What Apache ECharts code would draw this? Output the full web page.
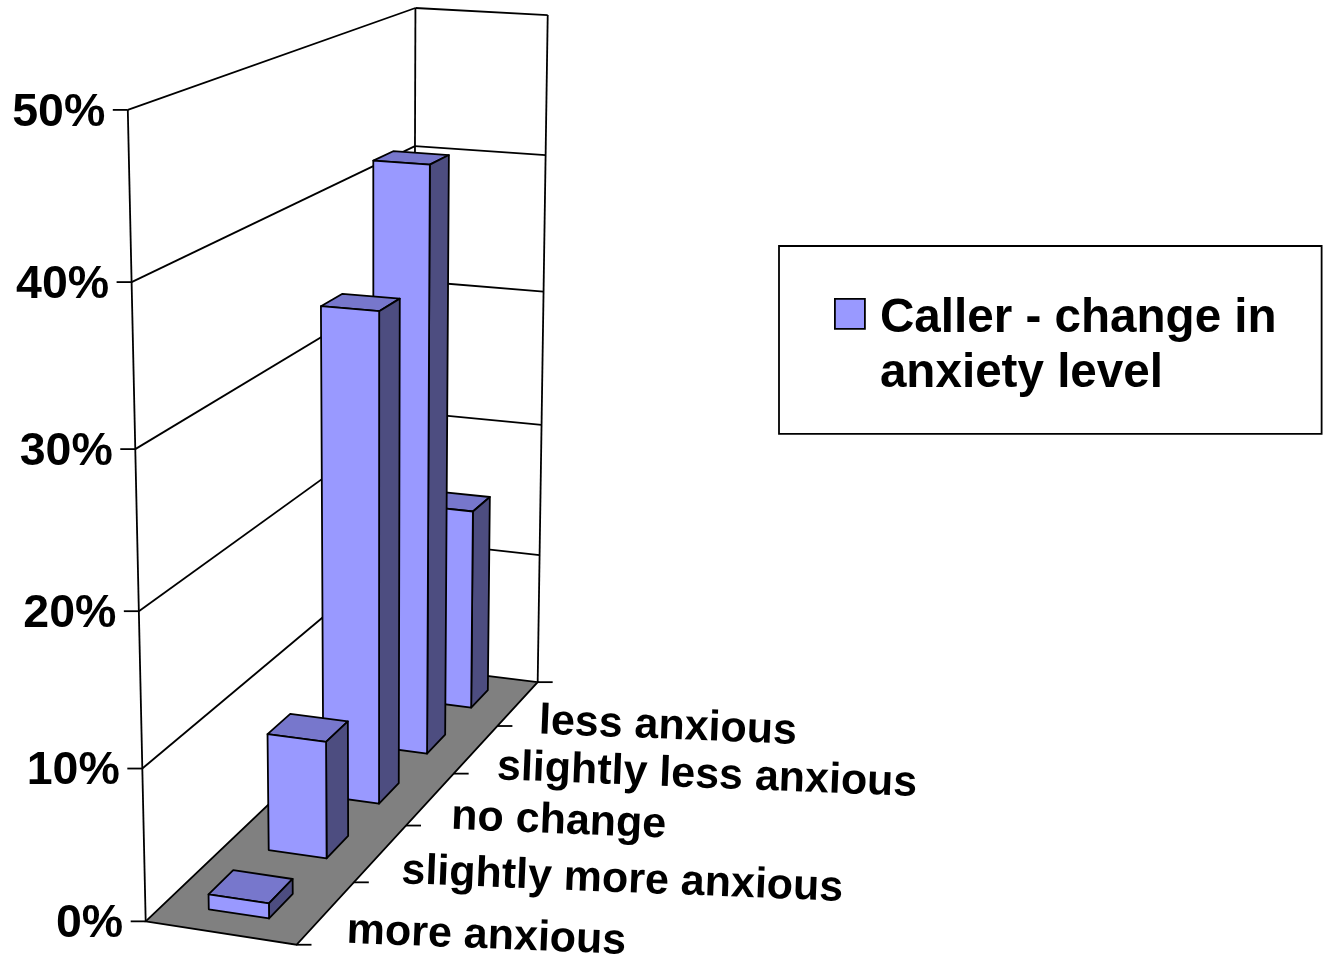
<!DOCTYPE html>
<html>
<head>
<meta charset="utf-8">
<title>Caller - change in anxiety level</title>
<style>
    html, body { margin: 0; padding: 0; background: #fff; }
    #main { width: 1325px; height: 955px; }
</style>
<script src="https://cdn.jsdelivr.net/npm/echarts@6/dist/echarts.min.js"></script>
</head>
<body>
<div id="main"></div>
<script>
// data
var categories = ['more anxious', 'slightly more anxious', 'no change', 'slightly less anxious', 'less anxious'];
var values = [1, 8, 34, 41.9, 15];
var tickValues = [0, 10, 20, 30, 40, 50];
var seriesName = 'Caller - change in\nanxiety level';

// where the corners of the unit box land on screen: [across, depth, height, x, y]
var camera = [
    [0, 0, 0, 145, 921],
    [1, 0, 0, 297, 945],
    [1, 1, 0, 537, 682],
    [0, 1, 0, 414, 667],
    [0, 0, 1, 128, 110],
    [0, 1, 1, 415, 8],
    [1, 1, 1, 548, 15]
];

var FONT = '"Liberation Sans", Arial, sans-serif';
var LINE = { stroke: '#000', lineWidth: 1.8 };
var BAR_LEFT = 0.295, BAR_RIGHT = 0.7, BAR_DEPTH = 0.4;

// least squares for x = (p0 + p1 u + p2 v + p3 h) / (1 + a u + b v + c h)
function solveCamera(points) {
    var n = 11, A = [], i, j, k;
    for (i = 0; i < n; i++) {
        A.push([]);
        for (j = 0; j <= n; j++) A[i].push(0);
    }
    function addRow(row, rhs) {
        for (var r = 0; r < n; r++) {
            for (var c = 0; c < n; c++) A[r][c] += row[r] * row[c];
            A[r][n] += row[r] * rhs;
        }
    }
    points.forEach(function (p) {
        var u = p[0], v = p[1], h = p[2], x = p[3], y = p[4];
        addRow([1, u, v, h, 0, 0, 0, 0, -x * u, -x * v, -x * h], x);
        addRow([0, 0, 0, 0, 1, u, v, h, -y * u, -y * v, -y * h], y);
    });
    for (i = 0; i < n; i++) {
        var best = i;
        for (j = i + 1; j < n; j++) if (Math.abs(A[j][i]) > Math.abs(A[best][i])) best = j;
        var tmp = A[i]; A[i] = A[best]; A[best] = tmp;
        for (j = 0; j < n; j++) {
            if (j === i) continue;
            var f = A[j][i] / A[i][i];
            for (k = i; k <= n; k++) A[j][k] -= f * A[i][k];
        }
    }
    return A.map(function (row, r) { return row[n] / row[r]; });
}

var m = solveCamera(camera);

function project(u, v, h) {
    var w = 1 + m[8] * u + m[9] * v + m[10] * h;
    return [
        (m[0] + m[1] * u + m[2] * v + m[3] * h) / w,
        (m[4] + m[5] * u + m[6] * v + m[7] * h) / w
    ];
}

// axis scales give the position inside the box
function depthOf(api, params, index) {
    return (api.coord([index, 0])[0] - params.coordSys.x) / params.coordSys.width;
}
function heightOf(api, params, value) {
    return 1 - (api.coord([0, value])[1] - params.coordSys.y) / params.coordSys.height;
}

function line(a, b, z) {
    return {
        type: 'line',
        z2: z || 1,
        shape: { x1: a[0], y1: a[1], x2: b[0], y2: b[1] },
        style: LINE
    };
}

function renderWalls(params, api) {
    var value = api.value(0);
    var h = heightOf(api, params, value);
    var left = project(0, 0, h), corner = project(0, 1, h), right = project(1, 1, h);
    var children = [];
    if (value === 0) {
        children.push({
            type: 'polygon',
            z2: 2,
            shape: { points: [project(0, 0, 0), project(1, 0, 0), project(1, 1, 0), project(0, 1, 0)] },
            style: { fill: '#808080', stroke: '#000', lineWidth: 1.8 }
        });
    } else {
        children.push(line(left, corner), line(corner, right));
    }
    if (value === tickValues[tickValues.length - 1]) {
        children.push(line(left, project(0, 0, 0)));
        children.push(line(corner, project(0, 1, 0)));
        children.push(line(right, project(1, 1, 0)));
    }
    children.push(line([left[0] - 15, left[1]], left));
    children.push({
        type: 'text',
        z2: 3,
        style: {
            x: left[0] - 22.5,
            y: left[1] + 3,
            text: value + '%',
            align: 'right',
            verticalAlign: 'middle',
            fill: '#000',
            font: 'bold 46.5px ' + FONT
        }
    });
    return { type: 'group', children: children };
}

function renderBar(params, api) {
    var i = api.value(0);
    var center = depthOf(api, params, i);
    var band = api.size([1, 0])[0] / params.coordSys.width;
    var v0 = center - band * BAR_DEPTH / 2, v1 = center + band * BAR_DEPTH / 2;
    var h = heightOf(api, params, api.value(1));
    var z = (categories.length - i) * 3;
    function face(pts, fill, order) {
        return {
            type: 'polygon',
            z2: z + order,
            shape: { points: pts },
            style: { fill: fill, stroke: '#000', lineWidth: 1.8, lineJoin: 'round' }
        };
    }
    return {
        type: 'group',
        children: [
            face([project(BAR_LEFT, v1, h), project(BAR_RIGHT, v1, h), project(BAR_RIGHT, v0, h), project(BAR_LEFT, v0, h)], '#7777cc', 0),
            face([project(BAR_RIGHT, v0, 0), project(BAR_RIGHT, v1, 0), project(BAR_RIGHT, v1, h), project(BAR_RIGHT, v0, h)], '#4d4d80', 0),
            face([project(BAR_LEFT, v0, 0), project(BAR_RIGHT, v0, 0), project(BAR_RIGHT, v0, h), project(BAR_LEFT, v0, h)], '#9999ff', 1)
        ]
    };
}

function renderCategory(params, api) {
    var i = api.value(0);
    var center = depthOf(api, params, i);
    var band = api.size([1, 0])[0] / params.coordSys.width;
    var mid = project(1, center, 0);
    var start = project(1, center - band / 2, 0);
    var children = [
        line(start, [start[0] + 15, start[1]]),
        {
            type: 'text',
            x: mid[0] + 21,
            y: mid[1] + 18,
            rotation: -2.3 * Math.PI / 180,
            style: {
                x: 0,
                y: 0,
                text: categories[i],
                align: 'left',
                verticalAlign: 'middle',
                fill: '#000',
                font: 'bold 43px ' + FONT
            }
        }
    ];
    if (i === categories.length - 1) {
        var end = project(1, center + band / 2, 0);
        children.push(line(end, [end[0] + 15, end[1]]));
    }
    return { type: 'group', children: children };
}

var myChart = echarts.init(document.getElementById('main'));

var option = {
    backgroundColor: '#fff',
    animation: false,
    grid: { left: 0, right: 0, top: 0, bottom: 0 },
    xAxis: { type: 'category', data: categories, show: false },
    yAxis: { type: 'value', min: 0, max: 50, interval: 10, show: false },
    legend: {
        data: [seriesName],
        left: 779,
        top: 246,
        padding: [44, 45, 32, 55],
        borderColor: '#000',
        borderWidth: 1.8,
        selectedMode: false,
        itemWidth: 40,
        itemHeight: 110,
        icon: 'path://M0 0h0zM0 8H30V38H0ZM40 110h0z',
        itemStyle: { color: '#9999ff', borderColor: '#000', borderWidth: 1.8 },
        textStyle: { color: '#000', fontFamily: FONT, fontWeight: 'bold', fontSize: 47.6, lineHeight: 55 }
    },
    series: [
        {
            type: 'custom',
            name: 'walls',
            silent: true,
            clip: false,
            renderItem: renderWalls,
            encode: { x: 1, y: 0 },
            data: tickValues.map(function (t) { return [t, 0]; }),
            z: 1
        },
        {
            type: 'custom',
            name: seriesName,
            silent: true,
            clip: false,
            renderItem: renderBar,
            itemStyle: { color: '#9999ff' },
            data: values.map(function (val, i) { return [i, val]; }),
            z: 2
        },
        {
            type: 'custom',
            name: 'categories',
            silent: true,
            clip: false,
            renderItem: renderCategory,
            data: categories.map(function (c, i) { return [i, 0]; }),
            z: 3
        }
    ]
};

myChart.setOption(option);
</script>
</body>
</html>
